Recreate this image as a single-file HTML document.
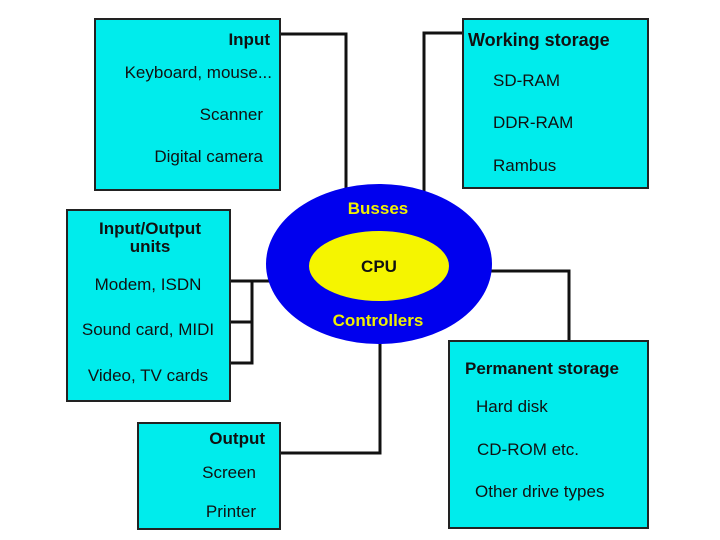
<!DOCTYPE html>
<html><head><style>body{margin:0;background:#fff}svg{display:block}text{font-family:"Liberation Sans",sans-serif;font-size:17px;fill:#111}</style></head><body>
<svg width="720" height="540" viewBox="0 0 720 540">
<g stroke="#111" stroke-width="3" fill="none">
<polyline points="280,34 346,34 346,190"/>
<polyline points="463,33 424,33 424,192"/>
<polyline points="230,281 275,281"/>
<polyline points="230,322 252,322"/>
<polyline points="230,363 252,363 252,281"/>
<polyline points="485,271 569,271 569,342"/>
<polyline points="280,453 380,453 380,335"/>
</g>
<g fill="#00ecec" stroke="#222" stroke-width="2">
<rect x="95" y="19" width="185" height="171"/>
<rect x="67" y="210" width="163" height="191"/>
<rect x="463" y="19" width="185" height="169"/>
<rect x="449" y="341" width="199" height="187"/>
<rect x="138" y="423" width="142" height="106"/>
</g>
<ellipse cx="379" cy="264" rx="113" ry="80" fill="#0000ee"/>
<ellipse cx="379" cy="266" rx="70" ry="35" fill="#f5f500"/>
<g font-weight="bold" fill="#f0f000" text-anchor="middle">
<text x="378" y="214" style="fill:#f0f000;font-weight:bold">Busses</text>
<text x="378" y="326" style="fill:#f0f000;font-weight:bold">Controllers</text>
</g>
<text x="379" y="272" text-anchor="middle" style="font-weight:bold">CPU</text>
<text x="270" y="45" text-anchor="end" style="font-weight:bold">Input</text>
<text x="272" y="78" text-anchor="end">Keyboard, mouse...</text>
<text x="263" y="120" text-anchor="end">Scanner</text>
<text x="263" y="162" text-anchor="end">Digital camera</text>
<text x="150" y="234" text-anchor="middle" style="font-weight:bold">Input/Output</text>
<text x="150" y="252" text-anchor="middle" style="font-weight:bold">units</text>
<text x="148" y="290" text-anchor="middle">Modem, ISDN</text>
<text x="148" y="335" text-anchor="middle">Sound card, MIDI</text>
<text x="148" y="381" text-anchor="middle">Video, TV cards</text>
<text x="468" y="46" style="font-weight:bold;font-size:18px">Working storage</text>
<text x="493" y="86">SD-RAM</text>
<text x="493" y="128">DDR-RAM</text>
<text x="493" y="171">Rambus</text>
<text x="465" y="374" style="font-weight:bold">Permanent storage</text>
<text x="476" y="412">Hard disk</text>
<text x="477" y="455">CD-ROM etc.</text>
<text x="475" y="497">Other drive types</text>
<text x="265" y="444" text-anchor="end" style="font-weight:bold">Output</text>
<text x="256" y="478" text-anchor="end">Screen</text>
<text x="256" y="517" text-anchor="end">Printer</text>
</svg>
</body></html>
